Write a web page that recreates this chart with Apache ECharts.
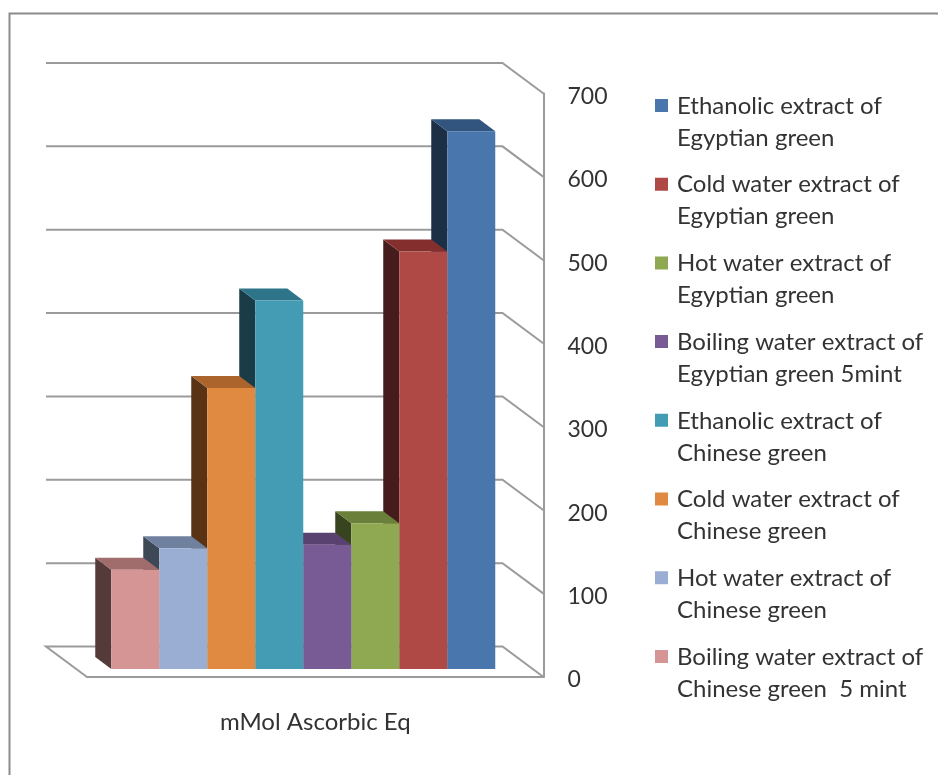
<!DOCTYPE html>
<html>
<head>
<meta charset="utf-8">
<title>mMol Ascorbic Eq</title>
<script src="https://cdn.jsdelivr.net/npm/echarts@6/dist/echarts.min.js"></script>
<style>
  html, body { margin: 0; padding: 0; background: #fff; }
  #chart { width: 938px; height: 775px; }
</style>
</head>
<body>
<div id="chart"></div>
<script>
const seriesNames = [
  'Ethanolic extract of\nEgyptian green',
  'Cold water extract of\nEgyptian green',
  'Hot water extract of\nEgyptian green',
  'Boiling water extract of\nEgyptian green 5mint',
  'Ethanolic extract of\nChinese green',
  'Cold water extract of\nChinese green',
  'Hot water extract of\nChinese green',
  'Boiling water extract of\nChinese green  5 mint'
]
const seriesValues = [645, 501, 175, 149, 442, 337, 145, 119]
const categories = ['mMol Ascorbic Eq']
const yTicks = [0, 100, 200, 300, 400, 500, 600, 700]

const frontColors = ['#4a76ae', '#af4946', '#8fa952', '#785a94', '#449cb4', '#e08a41', '#9aaed4', '#d69595']
const topColors = ['#32557f', '#842f2d', '#6a7f3a', '#5a4270', '#2e7589', '#aa642c', '#6f819f', '#a06c6c']
const sideColors = ['#1d2f45', '#451c1b', '#38441f', '#2f2339', '#1a3c47', '#5a3315', '#3d4756', '#553a3a']

const FONT = 'Lato'
const TEXT = '#333'
const GRID_COLOR = '#9b9b9b'
const WALL_DX = -41, WALL_DY = -30.5 // back wall offset from the front plane
const BAR_DX = -12, BAR_DY = -8 // bar fronts sit a bit inside the floor
const SIDE_DX = -16, SIDE_DY = -12 // bar depth
const BAR_W = 48

function renderWall(params, api) {
  const grid = params.coordSys
  const y = api.coord([0, api.value(0)])[1]
  const left = grid.x, right = grid.x + grid.width
  const pts = [[left + WALL_DX, y + WALL_DY], [right + WALL_DX, y + WALL_DY], [right, y]]
  if (api.value(0) === 0) pts.unshift([left, y]) // floor's left edge
  return {
    type: 'polyline',
    shape: { points: pts },
    style: { fill: 'none', stroke: GRID_COLOR, lineWidth: 2 }
  }
}

function renderBar(idx) {
  return function (params, api) {
    const top = api.coord([0, api.value(1)])
    const base = api.coord([0, 0])
    const x0 = top[0] - 4 * BAR_W + (7 - idx) * BAR_W + BAR_DX
    const x1 = x0 + BAR_W
    const yTop = top[1] + BAR_DY
    const yBase = base[1] + BAR_DY
    return {
      type: 'group',
      children: [
        {
          type: 'polygon',
          shape: { points: [[x0, yTop], [x0 + SIDE_DX, yTop + SIDE_DY], [x0 + SIDE_DX, yBase + SIDE_DY], [x0, yBase]] },
          style: { fill: sideColors[idx] }
        },
        {
          type: 'polygon',
          shape: { points: [[x0, yTop], [x0 + SIDE_DX, yTop + SIDE_DY], [x1 + SIDE_DX, yTop + SIDE_DY], [x1, yTop]] },
          style: { fill: topColors[idx] }
        },
        {
          type: 'rect',
          shape: { x: x0, y: yTop, width: BAR_W, height: yBase - yTop },
          style: { fill: frontColors[idx] }
        }
      ]
    }
  }
}

const chart = echarts.init(document.getElementById('chart'), null, { renderer: 'canvas' })

chart.setOption({
  animation: false,
  backgroundColor: '#fff',
  textStyle: { fontFamily: FONT },
  grid: { left: 87, top: 93.5, width: 456.5, height: 583.5 },
  xAxis: {
    type: 'category',
    data: categories,
    axisTick: { show: false },
    axisLine: { lineStyle: { color: GRID_COLOR, width: 2 } },
    axisLabel: { color: TEXT, fontFamily: FONT, fontSize: 24, margin: 33 }
  },
  yAxis: {
    type: 'value',
    position: 'right',
    min: 0,
    max: 700,
    interval: 100,
    axisTick: { show: false },
    splitLine: { show: false },
    axisLine: { show: true, lineStyle: { color: GRID_COLOR, width: 2 } },
    axisLabel: {
      margin: 24,
      formatter: '{tick|{value}}',
      rich: { tick: { color: TEXT, fontFamily: FONT, fontSize: 23, padding: [6, 0, 0, 0] } }
    }
  },
  legend: {
    orient: 'vertical',
    left: 650,
    top: 85,
    itemGap: 14.7,
    itemWidth: 17,
    itemHeight: 64,
    selectedMode: false,
    icon: 'path://M0,0L0,0M0,9H13V22H0ZM17,64L17,64',
    data: seriesNames,
    textStyle: { color: TEXT, fontFamily: FONT, fontSize: 24, lineHeight: 32 }
  },
  graphic: [
    {
      type: 'polyline',
      silent: true,
      shape: { points: [[9.5, 775], [9.5, 13.5], [938, 13.5]] },
      style: { fill: 'none', stroke: '#8c8c8c', lineWidth: 2 }
    }
  ],
  series: [
    {
      type: 'custom',
      name: 'wall',
      z: 1,
      silent: true,
      data: yTicks.map(v => [v]),
      encode: { y: 0 },
      renderItem: renderWall
    }
  ].concat(seriesNames.map((name, i) => ({
    type: 'custom',
    name: name,
    z: 2,
    itemStyle: { color: frontColors[i] },
    data: [[0, seriesValues[i]]],
    encode: { x: 0, y: 1 },
    renderItem: renderBar(i)
  })))
})

window.addEventListener('resize', () => chart.resize())
</script>
</body>
</html>
